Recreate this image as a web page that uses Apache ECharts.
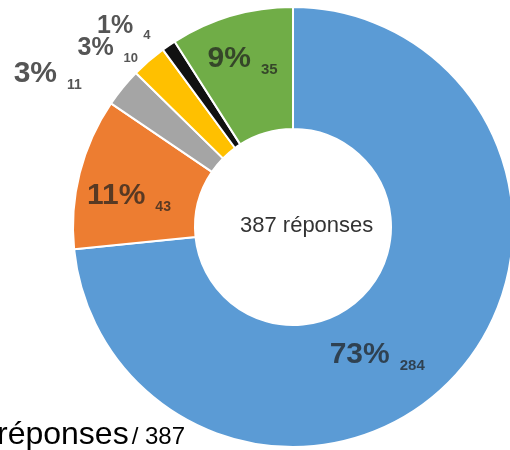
<!DOCTYPE html>
<html><head><meta charset="utf-8">
<script src="https://cdn.jsdelivr.net/npm/echarts@6/dist/echarts.min.js"></script>
<style>html,body{margin:0;padding:0;background:#fff}#c{width:510px;height:450px}</style>
</head><body><div id="c"></div>
<script>
var categories = ['A', 'B', 'C', 'D', 'E', 'F'];
var values = [284, 43, 11, 10, 4, 35];
var percents = ['73%', '11%', '3%', '3%', '1%', '9%'];
var total = 387;

var colors = ['#5B9BD5', '#ED7D31', '#A5A5A5', '#FFC000', '#111111', '#70AD47'];
var insideFlags = [true, true, false, false, false, true];
var pctSizes = [30, 30, 30, 25, 25, 30];
var numSizes = [15, 14, 14, 13, 13, 15];
var labelDx = [-36, -7, -22, 6, -3, -5];
var labelDy = [21, 10, -1, 3, -3, -11];

var chart = echarts.init(document.getElementById('c'));
var data = categories.map(function (c, i) {
  var txt = insideFlags[i] ? 'rgba(30,30,30,0.72)' : '#555';
  return {
    name: c, value: values[i], itemStyle: { color: colors[i] },
    label: {
      position: insideFlags[i] ? 'inside' : 'outside',
      rich: {
        p: { fontFamily: 'Liberation Sans', fontSize: pctSizes[i], fontWeight: 'bold', color: txt, verticalAlign: 'bottom', padding: [0, 0, 4, 0] },
        n: { fontFamily: 'Liberation Sans', fontSize: numSizes[i], fontWeight: 'bold', color: txt, verticalAlign: 'bottom', padding: [0, 0, 0, 10] }
      }
    }
  };
});
chart.setOption({
  animation: false,
  series: [{
    type: 'pie',
    center: [293, 227],
    radius: [98, 220],
    startAngle: 90,
    clockwise: true,
    avoidLabelOverlap: false,
    itemStyle: { borderColor: '#fff', borderWidth: 2 },
    labelLine: { show: false, length: 18, length2: 0 },
    label: {
      formatter: function (p) { return '{p|' + percents[p.dataIndex] + '}{n|' + p.value + '}'; }
    },
    labelLayout: function (p) {
      return { hideOverlap: false, dx: labelDx[p.dataIndex], dy: labelDy[p.dataIndex] };
    },
    data: data
  }],
  graphic: [
    { type: 'text', x: 240, y: 226, style: { text: total + ' réponses', font: '22px "Liberation Sans"', fill: '#333', verticalAlign: 'middle' } },
    { type: 'text', x: -3, y: 451, style: { text: '{a|réponses}{b|/ ' + total + '}', verticalAlign: 'bottom', rich: { a: { fontFamily: 'Liberation Sans', fontSize: 32, color: '#333', verticalAlign: 'bottom' }, b: { fontFamily: 'Liberation Sans', fontSize: 24, color: '#333', verticalAlign: 'bottom', padding: [0, 0, 2, 3] } } } }
  ]
});
</script></body></html>
